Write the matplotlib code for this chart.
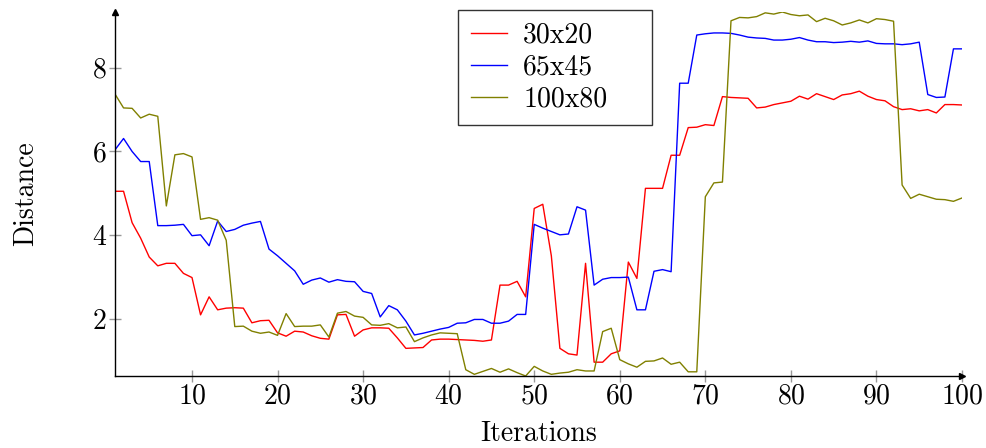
import matplotlib
matplotlib.use("Agg")
import matplotlib.pyplot as plt
import numpy as np

iterations = list(range(1, 101))

series_30x20 = [
    5.05, 5.05, 4.30, 3.93, 3.48, 3.27, 3.33, 3.33, 3.09, 2.99,
    2.10, 2.53, 2.22, 2.26, 2.27, 2.26, 1.91, 1.96, 1.97, 1.67,
    1.59, 1.71, 1.69, 1.60, 1.54, 1.52, 2.10, 2.11, 1.59, 1.74,
    1.79, 1.79, 1.78, 1.55, 1.30, 1.31, 1.32, 1.50, 1.52, 1.52,
    1.51, 1.50, 1.49, 1.47, 1.50, 2.81, 2.81, 2.90, 2.53, 4.64,
    4.74, 3.51, 1.30, 1.17, 1.14, 3.33, 0.97, 0.97, 1.17, 1.24,
    3.36, 2.97, 5.12, 5.12, 5.12, 5.91, 5.91, 6.57, 6.58, 6.64,
    6.62, 7.31, 7.29, 7.28, 7.27, 7.04, 7.06, 7.12, 7.16, 7.20,
    7.32, 7.25, 7.38, 7.31, 7.24, 7.35, 7.38, 7.44, 7.32, 7.24,
    7.21, 7.07, 7.00, 7.02, 6.97, 7.00, 6.92, 7.12, 7.12, 7.11,
]

series_65x45 = [
    6.04, 6.31, 6.00, 5.76, 5.76, 4.23, 4.23, 4.24, 4.26, 3.99,
    4.01, 3.75, 4.34, 4.09, 4.14, 4.24, 4.29, 4.33, 3.67, 3.51,
    3.33, 3.15, 2.83, 2.93, 2.98, 2.88, 2.94, 2.90, 2.89, 2.66,
    2.61, 2.05, 2.32, 2.22, 1.95, 1.62, 1.66, 1.71, 1.76, 1.80,
    1.90, 1.91, 1.99, 1.99, 1.90, 1.90, 1.95, 2.11, 2.11, 4.26,
    4.17, 4.09, 4.01, 4.03, 4.68, 4.60, 2.81, 2.95, 2.99, 2.99,
    3.00, 2.22, 2.22, 3.14, 3.18, 3.13, 7.63, 7.63, 8.78, 8.81,
    8.83, 8.83, 8.82, 8.78, 8.73, 8.71, 8.70, 8.66, 8.66, 8.68,
    8.72, 8.66, 8.62, 8.62, 8.60, 8.61, 8.63, 8.61, 8.64, 8.58,
    8.57, 8.57, 8.55, 8.57, 8.61, 7.36, 7.29, 7.30, 8.45, 8.45,
]

series_100x80 = [
    7.37, 7.04, 7.03, 6.80, 6.89, 6.84, 4.70, 5.92, 5.95, 5.87,
    4.38, 4.42, 4.36, 3.88, 1.82, 1.83, 1.71, 1.66, 1.69, 1.61,
    2.13, 1.82, 1.83, 1.83, 1.86, 1.57, 2.14, 2.18, 2.07, 2.04,
    1.86, 1.85, 1.89, 1.79, 1.81, 1.46, 1.55, 1.62, 1.67, 1.66,
    1.65, 0.79, 0.68, 0.75, 0.82, 0.73, 0.81, 0.72, 0.64, 0.87,
    0.76, 0.68, 0.71, 0.73, 0.79, 0.76, 0.76, 1.70, 1.78, 1.03,
    0.93, 0.85, 0.99, 1.00, 1.07, 0.92, 0.97, 0.74, 0.74, 4.92,
    5.25, 5.27, 9.12, 9.20, 9.19, 9.22, 9.31, 9.28, 9.33, 9.27,
    9.24, 9.26, 9.10, 9.18, 9.12, 9.02, 9.07, 9.14, 9.07, 9.17,
    9.15, 9.11, 5.20, 4.88, 4.98, 4.92, 4.86, 4.85, 4.81, 4.89,
]

series_labels = ["30x20", "65x45", "100x80"]
series_colors = ["#ff0000", "#0000ff", "#808000"]
x_ticks = [10, 20, 30, 40, 50, 60, 70, 80, 90, 100]
y_ticks = [2, 4, 6, 8]
x_label = "Iterations"
y_label = "Distance"

plt.rcParams["font.family"] = ["cmr10", "DejaVu Serif"]
plt.rcParams["axes.formatter.use_mathtext"] = True
FS = 20

fig = plt.figure(figsize=(9.86, 4.48), dpi=100)
ax = fig.add_axes([115 / 986, (448 - 376) / 448, (962 - 115) / 986, (376 - 12) / 448])

for data, lab, col in zip([series_30x20, series_65x45, series_100x80], series_labels, series_colors):
    ax.plot(iterations, data, color=col, lw=1.0, label=lab)

all_vals = series_30x20 + series_65x45 + series_100x80
ax.set_xlim(min(iterations), max(iterations))
ax.set_ylim(min(all_vals), max(all_vals))

ax.spines["top"].set_visible(False)
ax.spines["right"].set_visible(False)
for s in ("left", "bottom"):
    ax.spines[s].set_linewidth(1.0)
    ax.spines[s].set_color("black")

# axis arrows
ax.plot(1, 0, marker=">", color="black", markersize=5, transform=ax.transAxes, clip_on=False)
ax.plot(0, 1, marker="^", color="black", markersize=5, transform=ax.transAxes, clip_on=False)

ax.set_xticks(x_ticks)
ax.set_yticks(y_ticks)
ax.tick_params(axis="both", direction="inout", length=8, width=1.0, color="#999999",
               labelsize=FS, labelcolor="black")
ax.tick_params(axis="x", pad=1)
ax.tick_params(axis="y", pad=2)

ax.set_xlabel(x_label, fontsize=FS, labelpad=8)
ax.set_ylabel(y_label, fontsize=FS, labelpad=38)

lx0 = (458 - 115) / 847
ly1 = (376 - 10) / 364
lw_ = (652 - 458) / 847
lh_ = (122 - 10) / 364
leg = ax.legend(loc="upper left", bbox_to_anchor=(lx0, ly1 - lh_, lw_, lh_), mode="expand",
                borderaxespad=0, fontsize=FS, frameon=True, fancybox=False,
                handlelength=1.3, handletextpad=0.6, borderpad=0.45, labelspacing=0.2)
leg.get_frame().set_edgecolor("black")
leg.get_frame().set_linewidth(1.0)

fig.savefig("out.png", dpi=100)
